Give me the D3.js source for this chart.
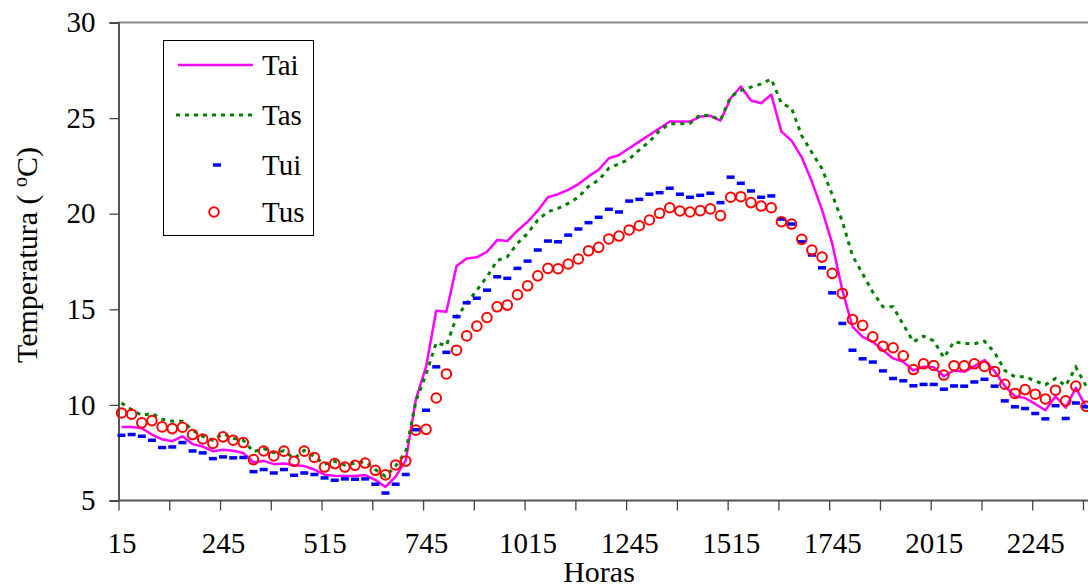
<!DOCTYPE html>
<html>
<head>
<meta charset="utf-8">
<script src="https://cdn.jsdelivr.net/npm/d3@7"></script>
<style>
  html, body { margin: 0; padding: 0; background: #fff; }
  svg { display: block; }
</style>
</head>
<body>
<svg id="chart" width="1088" height="588"></svg>
<script>
// time of day (HHMM), one reading every 15 minutes
const hours = [15, 30, 45, 100, 115, 130, 145, 200, 215, 230, 245, 300, 315, 330, 345, 400,
  415, 430, 445, 500, 515, 530, 545, 600, 615, 630, 645, 700, 715, 730, 745, 800,
  815, 830, 845, 900, 915, 930, 945, 1000, 1015, 1030, 1045, 1100, 1115, 1130, 1145, 1200,
  1215, 1230, 1245, 1300, 1315, 1330, 1345, 1400, 1415, 1430, 1445, 1500, 1515, 1530, 1545, 1600,
  1615, 1630, 1645, 1700, 1715, 1730, 1745, 1800, 1815, 1830, 1845, 1900, 1915, 1930, 1945, 2000,
  2015, 2030, 2045, 2100, 2115, 2130, 2145, 2200, 2215, 2230, 2245, 2300, 2315, 2330, 2345, 2400];

const xTickLabels = [15, 245, 515, 745, 1015, 1245, 1515, 1745, 2015, 2245];
const yTicks = [5, 10, 15, 20, 25, 30];

const tai = [8.85, 8.85, 8.78, 8.45, 8.2, 8.1, 8.36, 7.95, 7.82, 7.58, 7.65, 7.6, 7.48, 7.0, 7.07, 6.9,
  6.93, 6.85, 6.8, 6.62, 6.35, 6.3, 6.28, 6.28, 6.33, 6.08, 5.71, 6.25, 7.1, 10.3, 12.0, 14.92,
  14.87, 17.26, 17.66, 17.72, 18.01, 18.62, 18.57, 19.11, 19.58, 20.16, 20.86, 21.02, 21.25, 21.55, 21.95, 22.3,
  22.9, 23.07, 23.42, 23.77, 24.12, 24.47, 24.82, 24.82, 24.82, 25.08, 25.12, 24.87, 26.04, 26.65, 25.92, 25.78,
  26.23, 24.29, 23.82, 22.95, 21.68, 20.2, 18.45, 16.0, 14.1, 13.56, 13.3, 12.86, 12.43, 12.25, 11.8, 12.0,
  11.97, 11.5, 11.8, 11.73, 12.03, 12.34, 11.75, 11.0, 10.45, 10.36, 10.05, 9.72, 10.45, 9.85, 10.9, 9.9];

const tas = [10.1, 9.75, 9.45, 9.55, 9.25, 9.15, 9.15, 8.68, 8.35, 8.15, 8.5, 8.25, 8.15, 7.55, 7.72, 7.5,
  7.6, 7.2, 7.62, 7.3, 6.9, 7.05, 6.85, 6.96, 7.02, 6.62, 6.25, 6.8, 7.55, 10.2, 11.6, 13.25,
  13.1, 14.6, 15.3, 16.0, 16.7, 17.55, 17.75, 18.45, 18.97, 19.67, 20.1, 20.28, 20.54, 20.86, 21.43, 21.76,
  22.38, 22.6, 22.85, 23.34, 23.77, 24.35, 24.7, 24.7, 24.73, 25.17, 25.12, 24.9, 26.13, 26.44, 26.62, 26.79,
  27.04, 25.78, 25.52, 24.08, 23.2, 22.35, 21.0, 19.6, 17.8, 16.85, 15.9, 15.13, 15.13, 14.2, 13.3, 13.6,
  13.35, 12.47, 13.3, 13.21, 13.2, 13.33, 12.74, 11.8, 11.47, 11.47, 11.25, 11.05, 11.38, 11.0, 11.97, 11.0];

const tui = [8.41, 8.45, 8.36, 8.15, 7.77, 7.8, 8.03, 7.59, 7.49, 7.19, 7.28, 7.23, 7.25, 6.51, 6.62, 6.44,
  6.62, 6.32, 6.44, 6.36, 6.18, 6.06, 6.13, 6.11, 6.13, 5.85, 5.39, 5.85, 6.36, 8.7, 9.72, 11.99,
  12.75, 14.62, 15.34, 15.58, 16.0, 16.7, 16.62, 17.14, 17.52, 18.1, 18.57, 18.53, 18.88, 19.2, 19.53, 19.81,
  20.23, 20.09, 20.66, 20.75, 21.02, 21.1, 21.33, 21.02, 20.86, 20.96, 21.07, 20.58, 21.91, 21.59, 21.19, 20.86,
  20.93, 19.72, 19.46, 18.53, 17.84, 17.17, 15.86, 14.26, 12.86, 12.41, 12.24, 11.78, 11.38, 11.26, 11.0, 11.07,
  11.07, 10.82, 10.99, 10.98, 11.2, 11.34, 10.98, 10.21, 9.9, 9.81, 9.55, 9.27, 9.96, 9.29, 10.1, 9.9];

const tus = [9.58, 9.51, 9.06, 9.18, 8.85, 8.76, 8.83, 8.45, 8.22, 7.98, 8.33, 8.15, 8.03, 7.14, 7.59, 7.33,
  7.58, 7.05, 7.58, 7.25, 6.75, 6.93, 6.75, 6.84, 6.96, 6.58, 6.34, 6.86, 7.06, 8.68, 8.72, 10.36,
  11.62, 12.86, 13.61, 14.12, 14.57, 15.13, 15.22, 15.76, 16.23, 16.75, 17.14, 17.12, 17.37, 17.63, 18.06, 18.24,
  18.68, 18.83, 19.15, 19.37, 19.67, 20.02, 20.31, 20.14, 20.09, 20.16, 20.25, 19.9, 20.86, 20.89, 20.58, 20.4,
  20.31, 19.58, 19.46, 18.66, 18.1, 17.73, 16.88, 15.83, 14.47, 14.16, 13.56, 13.07, 12.99, 12.57, 11.85, 12.15,
  12.06, 11.56, 12.05, 12.04, 12.15, 12.01, 11.75, 11.08, 10.6, 10.8, 10.56, 10.31, 10.77, 10.21, 10.98, 9.93];

const FONT = "Liberation Serif";
const svg = d3.select("#chart").attr("font-family", FONT);
const plotLeft = 118.5, plotTop = 22.5, plotBottom = 500.5, plotRight = 1088;

const x = d3.scalePoint().domain(hours).range([121.5, 1086]);
const y = d3.scaleLinear().domain([5, 30]).range([plotBottom, plotTop]);

// plot frame (top border)
svg.append("line")
  .attr("x1", plotLeft).attr("x2", plotRight).attr("y1", plotTop).attr("y2", plotTop)
  .attr("stroke", "#8a8a8a").attr("stroke-width", 2);

// axes
const xAxis = d3.axisBottom(x)
  .tickValues(hours.filter((h, i) => i % 5 === 0))
  .tickSize(10).tickPadding(22)
  .tickFormat(h => xTickLabels.includes(h) ? h : "");
const gx = svg.append("g").attr("transform", `translate(0,${plotBottom})`).call(xAxis)
  .attr("font-family", FONT);
gx.select(".domain").attr("d", `M${plotLeft},0H${plotRight}`).attr("stroke", "#555").attr("stroke-width", 2);
gx.selectAll(".tick line").attr("x1", -3).attr("x2", -3).attr("stroke", "#444").attr("stroke-width", 1.3);
gx.selectAll(".tick text").attr("font-size", 29).attr("font-family", FONT).attr("fill", "#000");

const yAxis = d3.axisLeft(y).tickValues(yTicks).tickSize(9).tickPadding(14);
const gy = svg.append("g").attr("transform", `translate(${plotLeft},0)`).call(yAxis)
  .attr("font-family", FONT);
gy.select(".domain").attr("stroke", "#555").attr("stroke-width", 2);
gy.selectAll(".tick line").attr("stroke", "#444").attr("stroke-width", 1.3);
gy.selectAll(".tick text").attr("font-size", 29).attr("font-family", FONT).attr("fill", "#000");

// axis titles
svg.append("text")
  .attr("x", 599).attr("y", 582).attr("text-anchor", "middle")
  .attr("font-family", FONT).attr("font-size", 30).text("Horas");

const yTitle = svg.append("text")
  .attr("transform", "translate(36.5,255) rotate(-90)")
  .attr("text-anchor", "middle").attr("font-family", FONT).attr("font-size", 30)
  .attr("xml:space", "preserve");
yTitle.append("tspan").text("Temperatura ( ");
yTitle.append("tspan").attr("font-size", 20).attr("dy", -10).text("o");
yTitle.append("tspan").attr("dy", 10).text("C)");

// series
const line = d3.line().x((d, i) => x(hours[i])).y(d => y(d));

svg.append("path").datum(tai)
  .attr("d", line).attr("fill", "none")
  .attr("stroke", "#ff00ff").attr("stroke-width", 2.5).attr("stroke-linejoin", "round");

svg.append("path").datum(tas)
  .attr("d", line).attr("fill", "none")
  .attr("stroke", "#008000").attr("stroke-width", 3).attr("stroke-dasharray", "4,5");

svg.append("g").selectAll("rect").data(tui).join("rect")
  .attr("x", (d, i) => x(hours[i]) - 4).attr("y", d => y(d) - 1.75)
  .attr("width", 8).attr("height", 3.5).attr("fill", "#0000ff");

svg.append("g").selectAll("circle").data(tus).join("circle")
  .attr("cx", (d, i) => x(hours[i])).attr("cy", d => y(d)).attr("r", 4.8)
  .attr("fill", "none").attr("stroke", "#ff0000").attr("stroke-width", 2);

// legend
const legend = svg.append("g").attr("font-family", FONT);
legend.append("rect")
  .attr("x", 163.5).attr("y", 40.5).attr("width", 150).attr("height", 195)
  .attr("fill", "#fff").attr("stroke", "#000").attr("stroke-width", 1);

const names = ["Tai", "Tas", "Tui", "Tus"];
const rowY = [65, 115, 165, 212];
names.forEach((n, i) => {
  legend.append("text").attr("x", 262).attr("y", rowY[i] + 10)
    .attr("font-family", FONT).attr("font-size", 29).text(n);
});
legend.append("line").attr("x1", 178).attr("x2", 253).attr("y1", rowY[0]).attr("y2", rowY[0])
  .attr("stroke", "#ff00ff").attr("stroke-width", 2.5);
legend.append("line").attr("x1", 176).attr("x2", 253).attr("y1", rowY[1]).attr("y2", rowY[1])
  .attr("stroke", "#008000").attr("stroke-width", 3).attr("stroke-dasharray", "4,5");
legend.append("rect").attr("x", 213).attr("y", rowY[2] - 1.75).attr("width", 8).attr("height", 3.5)
  .attr("fill", "#0000ff");
legend.append("circle").attr("cx", 214).attr("cy", rowY[3]).attr("r", 4.8)
  .attr("fill", "none").attr("stroke", "#ff0000").attr("stroke-width", 2);
</script>
</body>
</html>
